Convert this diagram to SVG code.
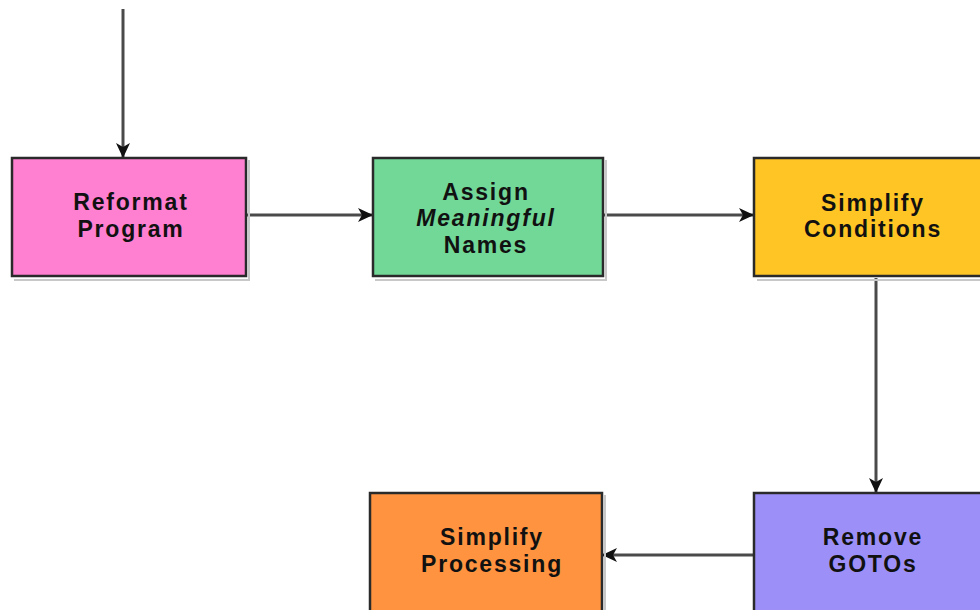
<svg xmlns="http://www.w3.org/2000/svg" width="980" height="610" viewBox="0 0 980 610">
<defs>
<style>
.box{stroke:#2a2a2a;stroke-width:2.5}
.shadow{fill:none;stroke:#c8c8c8;stroke-width:2}
.t{font-family:"Liberation Sans",Arial,sans-serif;font-weight:bold;font-size:23px;letter-spacing:1.8px;fill:#111;text-anchor:middle}
.i{font-style:italic}
.c{fill:none;stroke:#4a4a4a;stroke-width:3}
</style>
<marker id="ah" viewBox="0 0 15 14" refX="14" refY="7" markerWidth="15" markerHeight="14" markerUnits="userSpaceOnUse" orient="auto">
<path d="M0,0 L15,7 L0,14 L4,7 Z" fill="#111"/>
</marker>
</defs>
<rect width="980" height="610" fill="#fff"/>
<g id="connectors">
<line class="c" x1="123" y1="9" x2="123" y2="157" marker-end="url(#ah)"/>
<line class="c" x1="247" y1="215" x2="372" y2="215" marker-end="url(#ah)"/>
<line class="c" x1="604" y1="215" x2="753" y2="215" marker-end="url(#ah)"/>
<line class="c" x1="876" y1="278" x2="876" y2="492" marker-end="url(#ah)"/>
<line class="c" x1="753" y1="555" x2="603" y2="555" marker-end="url(#ah)"/>
</g>
<g id="reformat">
<polyline class="shadow" points="249,160 249,280 14,280"/>
<rect class="box" x="12" y="158" width="234" height="118" fill="#FF7FD0"/>
<text class="t" x="131" y="210">Reformat</text>
<text class="t" x="131" y="237">Program</text>
</g>
<g id="assign">
<polyline class="shadow" points="606,160 606,280 375,280"/>
<rect class="box" x="373" y="158" width="230" height="118" fill="#72D898"/>
<text class="t" x="486" y="200">Assign</text>
<text class="t i" x="486" y="226">Meaningful</text>
<text class="t" x="486" y="253">Names</text>
</g>
<g id="simplify-conditions">
<polyline class="shadow" points="757,280 980,280"/>
<rect class="box" x="754" y="158" width="232" height="118" fill="#FFC524"/>
<text class="t" x="873" y="211">Simplify</text>
<text class="t" x="873" y="237">Conditions</text>
</g>
<g id="remove-gotos">
<rect class="box" x="754" y="493" width="232" height="120" fill="#9C90F8"/>
<text class="t" x="873" y="545">Remove</text>
<text class="t" x="873" y="572">GOTOs</text>
</g>
<g id="simplify-processing">
<polyline class="shadow" points="605,495 605,610"/>
<rect class="box" x="370" y="493" width="232" height="120" fill="#FF9340"/>
<text class="t" x="492" y="545">Simplify</text>
<text class="t" x="492" y="572">Processing</text>
</g>
</svg>
